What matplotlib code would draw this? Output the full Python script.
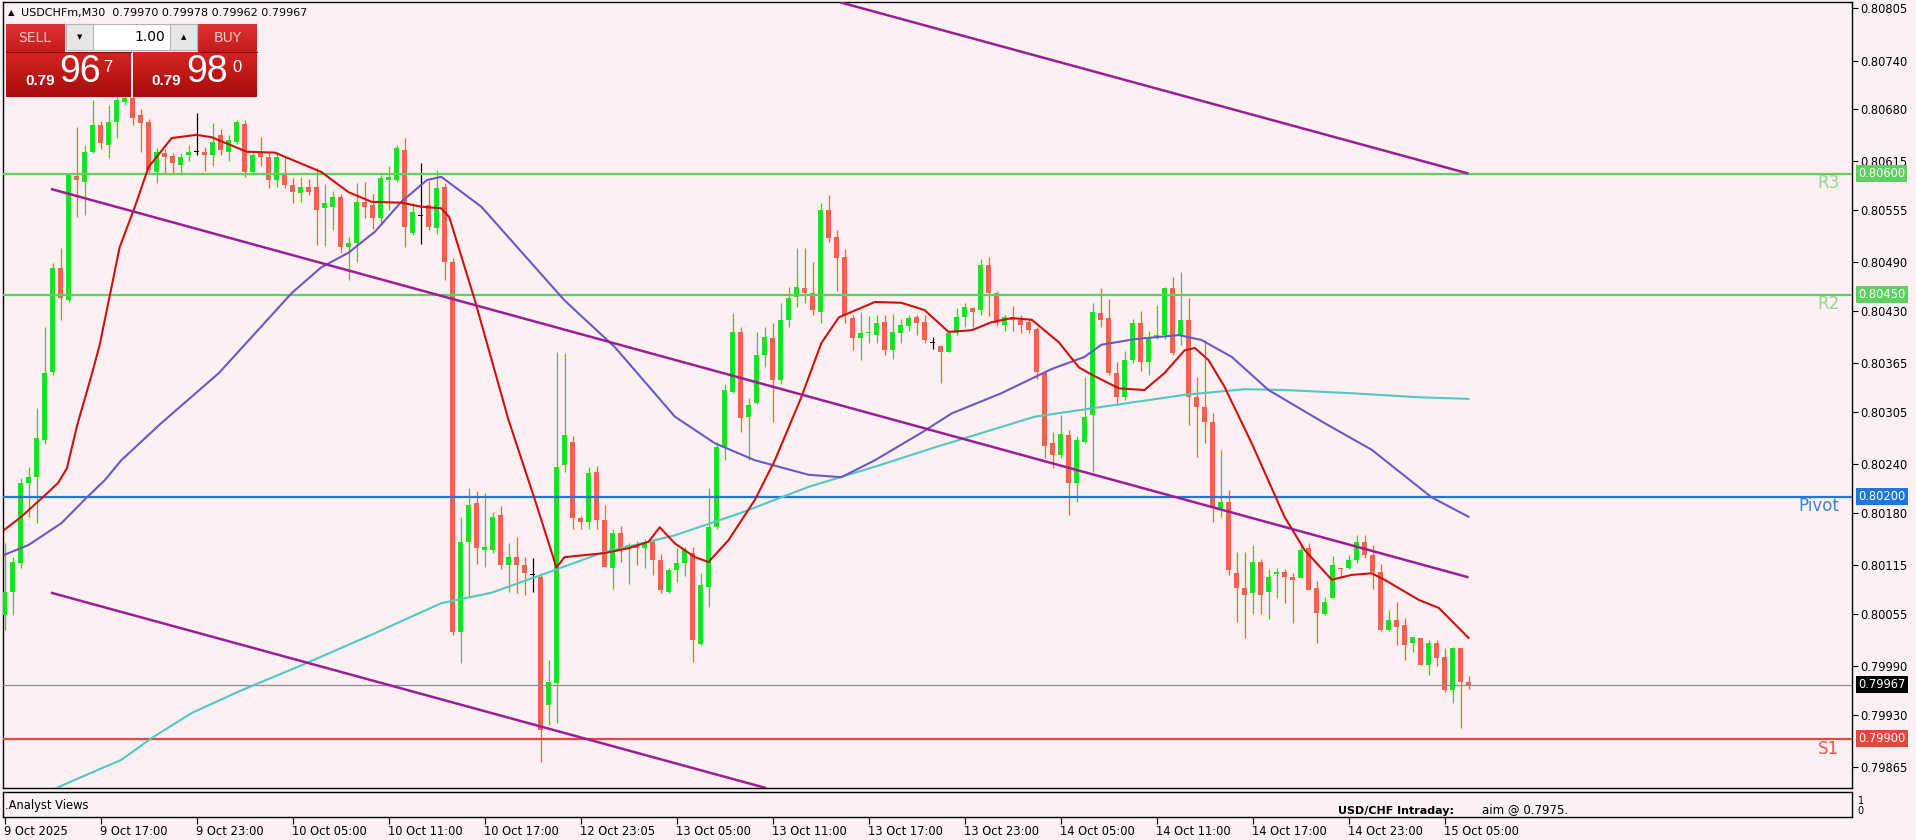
import numpy as np
import matplotlib
matplotlib.use("Agg")
import matplotlib.pyplot as plt
from matplotlib.patches import Rectangle
from matplotlib.colors import to_rgb
from matplotlib.transforms import blended_transform_factory

plt.rcParams['font.family'] = ['DejaVu Sans']

# ---- data (prices in points, 1e-5) ----
symbol = "USDCHFm,M30"

opens = [80053, 80082, 80118, 80217, 80224, 80270, 80354, 80483, 80443, 80597,
         80590, 80627, 80660, 80635, 80664, 80689, 80694, 80673, 80664, 80602,
         80626, 80622, 80611, 80623, 80627, 80627, 80623, 80648, 80627, 80639,
         80662, 80602, 80625, 80621, 80592, 80601, 80586, 80576, 80583, 80583,
         80557, 80559, 80571, 80509, 80514, 80565, 80561, 80545, 80592, 80592,
         80629, 80526, 80548, 80561, 80533, 80583, 80491, 80032, 80144, 80192,
         80134, 80134, 80177, 80115, 80125, 80115, 80103, 80100, 79942, 79969,
         80239, 80268, 80173, 80168, 80230, 80171, 80112, 80155, 80136, 80140,
         80136, 80146, 80121, 80082, 80109, 80118, 80130, 80018, 80088, 80162,
         80261, 80330, 80404, 80299, 80316, 80375, 80396, 80344, 80419, 80447,
         80458, 80452, 80429, 80555, 80521, 80497, 80421, 80396, 80402, 80400,
         80416, 80381, 80403, 80411, 80422, 80416, 80390, 80387, 80379, 80403,
         80422, 80434, 80431, 80487, 80452, 80413, 80422, 80419, 80416, 80408,
         80353, 80266, 80251, 80276, 80217, 80268, 80301, 80427, 80421, 80353,
         80323, 80369, 80415, 80367, 80396, 80400, 80458, 80400, 80419, 80323,
         80311, 80292, 80186, 80193, 80105, 80087, 80080, 80119, 80082, 80104,
         80106, 80100, 80099, 80136, 80087, 80055, 80074, 80112, 80112, 80121,
         80144, 80128, 80107, 80035, 80047, 80041, 80019, 80025, 79992, 80019,
         80001, 79960, 80012, 79970]
highs = [80142, 80125, 80223, 80237, 80310, 80410, 80489, 80508, 80600, 80658,
         80635, 80691, 80665, 80685, 80700, 80700, 80700, 80680, 80668, 80632,
         80630, 80626, 80625, 80635, 80675, 80633, 80663, 80655, 80648, 80666,
         80666, 80626, 80645, 80627, 80625, 80620, 80595, 80596, 80593, 80607,
         80587, 80578, 80575, 80521, 80588, 80590, 80575, 80598, 80610, 80635,
         80644, 80563, 80613, 80591, 80604, 80588, 80495, 80175, 80211, 80207,
         80204, 80181, 80188, 80142, 80150, 80125, 80124, 80105, 79997, 80379,
         80378, 80275, 80176, 80237, 80238, 80189, 80160, 80163, 80143, 80145,
         80148, 80148, 80129, 80112, 80136, 80138, 80138, 80105, 80211, 80268,
         80340, 80427, 80410, 80322, 80404, 80410, 80415, 80440, 80460, 80508,
         80508, 80491, 80564, 80573, 80530, 80507, 80425, 80429, 80424, 80425,
         80425, 80426, 80420, 80425, 80425, 80425, 80398, 80388, 80405, 80434,
         80440, 80435, 80494, 80497, 80455, 80425, 80436, 80425, 80420, 80410,
         80355, 80280, 80301, 80282, 80275, 80348, 80440, 80458, 80445, 80367,
         80380, 80420, 80430, 80405, 80437, 80460, 80472, 80478, 80446, 80348,
         80394, 80303, 80258, 80208, 80131, 80131, 80140, 80123, 80110, 80111,
         80110, 80105, 80142, 80142, 80095, 80076, 80127, 80112, 80128, 80152,
         80152, 80140, 80117, 80060, 80070, 80050, 80026, 80025, 80023, 80023,
         80013, 80014, 80013, 79978]
lows = [80035, 80053, 80111, 80175, 80167, 80265, 80350, 80419, 80441, 80546,
        80549, 80626, 80630, 80619, 80644, 80685, 80660, 80627, 80600, 80588,
        80600, 80600, 80598, 80615, 80623, 80603, 80610, 80623, 80616, 80637,
        80596, 80600, 80610, 80582, 80584, 80582, 80563, 80565, 80573, 80512,
        80510, 80530, 80502, 80468, 80490, 80545, 80531, 80540, 80555, 80590,
        80509, 80524, 80513, 80530, 80525, 80468, 80028, 79994, 80076, 80117,
        80113, 80130, 80110, 80082, 80080, 80078, 80082, 79871, 79917, 79920,
        80230, 80160, 80160, 80160, 80160, 80113, 80085, 80119, 80092, 80115,
        80111, 80103, 80080, 80080, 80094, 80102, 79995, 80016, 80063, 80160,
        80245, 80328, 80280, 80245, 80315, 80360, 80292, 80340, 80410, 80435,
        80440, 80425, 80415, 80515, 80455, 80415, 80381, 80369, 80390, 80390,
        80375, 80370, 80390, 80405, 80400, 80390, 80383, 80341, 80379, 80400,
        80410, 80410, 80425, 80424, 80411, 80405, 80405, 80402, 80403, 80346,
        80248, 80235, 80248, 80177, 80193, 80266, 80230, 80410, 80350, 80313,
        80320, 80365, 80355, 80350, 80395, 80395, 80375, 80388, 80289, 80249,
        80266, 80169, 80175, 80103, 80045, 80025, 80055, 80055, 80048, 80075,
        80068, 80044, 80099, 80084, 80019, 80053, 80074, 80100, 80110, 80118,
        80124, 80085, 80033, 80033, 80016, 79998, 80007, 79992, 79979, 79990,
        79958, 79944, 79913, 79962]
closes = [80082, 80119, 80217, 80224, 80273, 80353, 80483, 80446, 80598, 80592,
          80627, 80660, 80638, 80664, 80691, 80694, 80669, 80663, 80604, 80627,
          80621, 80613, 80621, 80627, 80627, 80623, 80639, 80629, 80642, 80664,
          80602, 80623, 80620, 80592, 80621, 80586, 80577, 80583, 80577, 80555,
          80563, 80571, 80509, 80514, 80565, 80559, 80545, 80595, 80596, 80632,
          80534, 80552, 80548, 80534, 80582, 80491, 80032, 80144, 80190, 80136,
          80137, 80175, 80115, 80125, 80115, 80105, 80103, 79911, 79970, 80237,
          80276, 80173, 80168, 80229, 80171, 80113, 80155, 80136, 80140, 80136,
          80144, 80121, 80084, 80109, 80118, 80134, 80022, 80090, 80162, 80261,
          80332, 80404, 80297, 80313, 80375, 80398, 80344, 80419, 80446, 80460,
          80452, 80431, 80555, 80520, 80495, 80425, 80396, 80402, 80403, 80415,
          80381, 80404, 80412, 80421, 80415, 80394, 80390, 80379, 80402, 80422,
          80435, 80429, 80487, 80452, 80415, 80422, 80419, 80413, 80406, 80354,
          80263, 80251, 80278, 80217, 80270, 80299, 80429, 80419, 80353, 80323,
          80369, 80415, 80367, 80396, 80400, 80458, 80378, 80419, 80323, 80311,
          80292, 80186, 80193, 80109, 80087, 80078, 80119, 80078, 80100, 80106,
          80100, 80097, 80134, 80084, 80056, 80069, 80115, 80110, 80122, 80144,
          80128, 80107, 80035, 80047, 80039, 80016, 80026, 79992, 80019, 80000,
          79960, 80012, 79970, 79967]

# moving averages (bar index, price in points)
ma_fast_bars = [0, 2.1, 5.1, 6.7, 7.8, 9.1, 10.9, 11.9, 14.4, 16.3, 18, 20.9, 24, 25.9,
                30.3, 33.8, 39.6, 43, 45.9, 49.6, 52.1, 54.6, 55.6, 58.8, 63, 66.3, 69,
                70, 73, 75, 78, 80.5, 81.9, 83.8, 86.3, 88, 90.5, 93.8, 96.3, 99.6,
                102.1, 104.3, 108.8, 112.1, 115, 118, 120.9, 123.4, 125.9, 128.4,
                131.8, 134.3, 135.9, 139.3, 142.5, 145, 147.5, 148.8, 150.5, 152.5,
                155.9, 160, 162.5, 165.9, 168.4, 170.9, 172.5, 176.8, 179.3, 183]
ma_fast_vals = [80159, 80175, 80202, 80217, 80235, 80289, 80351, 80388, 80509, 80559,
                80608, 80644, 80648, 80645, 80627, 80626, 80602, 80577, 80565, 80564,
                80559, 80557, 80546, 80443, 80295, 80196, 80112, 80125, 80128, 80130,
                80136, 80144, 80162, 80142, 80125, 80119, 80146, 80196, 80245, 80323,
                80390, 80422, 80441, 80440, 80431, 80404, 80406, 80416, 80421, 80419,
                80391, 80360, 80351, 80334, 80332, 80353, 80381, 80384, 80369, 80336,
                80266, 80175, 80134, 80097, 80103, 80105, 80097, 80072, 80062, 80025]
ma_mid_bars = [0, 3, 7.1, 10.3, 12.5, 14.6, 19.6, 26.8, 35.9, 39.6, 43, 46.3, 49.6,
               52.8, 54.6, 59.6, 70, 76.3, 83.8, 88.8, 93.8, 100.5, 104.6, 108.8,
               114.6, 118.4, 124.6, 130.9, 135, 137.1, 141.3, 146.8, 149.6, 153.4,
               158, 165, 170.9, 178.4, 183]
ma_mid_vals = [80128, 80140, 80167, 80199, 80220, 80245, 80291, 80353, 80452, 80484,
               80502, 80528, 80565, 80592, 80596, 80559, 80443, 80385, 80299, 80266,
               80245, 80227, 80224, 80245, 80279, 80303, 80328, 80358, 80373, 80388,
               80395, 80400, 80394, 80373, 80332, 80291, 80258, 80199, 80175]
ma_slow_bars = [6, 8.75, 14.6, 18.4, 23.4, 29.6, 37.1, 45.9, 54.6, 60.9, 67.1, 74.6,
                83.8, 92.1, 100.5, 108.8, 116.3, 128.8, 137.1, 147.5, 155, 160, 168.4,
                176.8, 183]
ma_slow_vals = [79837, 79849, 79874, 79901, 79932, 79960, 79991, 80029, 80068, 80081,
                80103, 80130, 80152, 80180, 80212, 80237, 80261, 80299, 80311, 80326,
                80333, 80332, 80328, 80323, 80321]

# channel trend lines
tl_upper_bars, tl_upper_vals = [104.5, 183], [80812, 80600]
tl_mid_bars, tl_mid_vals = [5.8, 183], [80581, 80100]
tl_low_bars, tl_low_vals = [5.8, 95.2], [80081, 79839]

# pivot levels
levels = {"R3": 0.80600, "R2": 0.80450, "Pivot": 0.80200, "S1": 0.79900}
level_colors = {"R3": "#5fcf5f", "R2": "#5fcf5f", "Pivot": "#1f78d8", "S1": "#e5483c"}
label_colors = {"R3": "#8fd88f", "R2": "#8fd88f", "Pivot": "#3b84d6", "S1": "#e2574c"}

price_ticks = [0.80805, 0.80740, 0.80680, 0.80615, 0.80555, 0.80490, 0.80430, 0.80365,
               0.80305, 0.80240, 0.80180, 0.80115, 0.80055, 0.79990, 0.79930, 0.79865]
time_bars = [0, 12, 24, 36, 48, 60, 72, 84, 96, 108, 120, 132, 144, 156, 168, 180]
time_labels = ["9 Oct 2025", "9 Oct 17:00", "9 Oct 23:00", "10 Oct 05:00", "10 Oct 11:00",
               "10 Oct 17:00", "12 Oct 23:05", "13 Oct 05:00", "13 Oct 11:00",
               "13 Oct 17:00", "13 Oct 23:00", "14 Oct 05:00", "14 Oct 11:00",
               "14 Oct 17:00", "14 Oct 23:00", "15 Oct 05:00"]
sell_price, buy_price = "0.79967", "0.79980"

# ---- layout ----
W, H = 1916, 840
BG = "#fdf0f3"
GREEN = "#1ee01e"
RED = "#f0654a"


def px_rect(x0, y0, x1, y1):
    return [x0 / W, 1 - y1 / H, (x1 - x0) / W, (y1 - y0) / H]


fig = plt.figure(figsize=(W / 100, H / 100), dpi=100, facecolor=BG)
ax = fig.add_axes(px_rect(2.5, 2, 1852, 788))
axp = fig.add_axes(px_rect(2.5, 792, 1852, 817))
ui = fig.add_axes([0, 0, 1, 1], zorder=20)

x_lo = -0.25
x_hi = x_lo + (1852 - 2.5) / 8.0
for a in (ax, axp):
    a.set_facecolor(BG)
    a.set_xlim(x_lo, x_hi)
    for s in a.spines.values():
        s.set_color("black")
        s.set_linewidth(1.0)

ax.set_ylim(0.798391, 0.808125)

# candles
o = np.array(opens) / 1e5
h = np.array(highs) / 1e5
l = np.array(lows) / 1e5
c = np.array(closes) / 1e5
idx = np.arange(len(o))
cols = np.where(c > o, GREEN, np.where(c < o, RED, "black"))
ax.vlines(idx, l, h, colors=cols, lw=0.9, zorder=3)
body = np.maximum(np.abs(c - o), 0.000013)
ax.bar(idx, body, bottom=np.minimum(o, c), width=0.62, color=cols, lw=0, zorder=4)

# levels
tr = blended_transform_factory(ax.transAxes, ax.transData)
for name, val in levels.items():
    ax.axhline(val, color=level_colors[name], lw=1.6, zorder=5)
    ax.annotate(name, xy=(0.9932, val), xycoords=tr, xytext=(0, -0.5),
                textcoords="offset points", ha="right", va="top",
                fontsize=12, color=label_colors[name], zorder=6)
    ax.annotate(f"{val:.5f}", xy=(1.0, val), xycoords=tr, xytext=(4.5, 0),
                textcoords="offset points", ha="left", va="center", fontsize=8.3,
                color="white", annotation_clip=False,
                bbox=dict(boxstyle="square,pad=0.18", fc=level_colors[name], ec="none"))
last = c[-1]
ax.axhline(last, color="#8c8c8c", lw=0.9, zorder=5)
ax.annotate(f"{last:.5f}", xy=(1.0, last), xycoords=tr, xytext=(4.5, 0),
            textcoords="offset points", ha="left", va="center", fontsize=8.3,
            color="white", annotation_clip=False,
            bbox=dict(boxstyle="square,pad=0.18", fc="black", ec="none"))

# moving averages
ax.plot(ma_slow_bars, np.array(ma_slow_vals) / 1e5, color="#52c8c2", lw=1.5, zorder=6)
ax.plot(ma_mid_bars, np.array(ma_mid_vals) / 1e5, color="#6a58c8", lw=1.5, zorder=6)
ax.plot(ma_fast_bars, np.array(ma_fast_vals) / 1e5, color="#d01010", lw=1.5, zorder=6)

# trend lines
for bx, by in ((tl_upper_bars, tl_upper_vals), (tl_mid_bars, tl_mid_vals),
               (tl_low_bars, tl_low_vals)):
    ax.plot(bx, np.array(by) / 1e5, color="#9c1e96", lw=1.8, zorder=7,
            solid_capstyle="butt")

ax.set_xticks([])
ax.yaxis.tick_right()
ax.set_yticks(price_ticks)
ax.set_yticklabels([f"{p:.5f}" for p in price_ticks])
ax.tick_params(axis="y", length=4, width=0.8, pad=2, labelsize=8.3, direction="out")

# indicator sub-window
axp.set_ylim(-0.7, 1.8)
axp.yaxis.tick_right()
axp.set_yticks([1, 0])
axp.set_yticklabels(["1", "0"])
axp.tick_params(axis="y", length=0, pad=4, labelsize=7)
axp.set_xticks(time_bars)
axp.set_xticklabels(time_labels, ha="left", fontsize=8.3)
axp.tick_params(axis="x", length=5, width=0.8, pad=1, direction="out")

# ---- UI overlay (pixel coords) ----
ui.set_xlim(0, W)
ui.set_ylim(H, 0)
ui.axis("off")

ui.text(5, 806, ".Analyst Views", fontsize=8.3, va="center", ha="left")
ui.text(1338, 816, "USD/CHF Intraday:", fontsize=8, fontweight="bold", va="bottom", ha="left")
ui.text(1482, 816, "aim @ 0.7975.", fontsize=8.5, va="bottom", ha="left")

ui.text(8, 13, "\u25b2", fontsize=6, va="center", ha="left")
ui.text(21, 13, f"{symbol}  {o[-1]:.5f} {h[-1]:.5f} {l[-1]:.5f} {c[-1]:.5f}",
        fontsize=8, va="center", ha="left")


def grad(x0, y0, x1, y1, top, bot):
    t = np.linspace(0, 1, 40)[:, None]
    img = (np.array(to_rgb(top)) * (1 - t) + np.array(to_rgb(bot)) * t)[:, None, :]
    ui.imshow(img, extent=(x0, x1, y1, y0), aspect="auto", zorder=21,
              interpolation="bilinear")


grad(6, 24, 65, 52, "#dc3434", "#c41c1c")
grad(198, 24, 257, 52, "#dc3434", "#c41c1c")
grad(6, 52, 131, 97, "#d42424", "#a80c0c")
grad(133, 52, 257, 97, "#d42424", "#a80c0c")
ui.add_patch(Rectangle((66, 24), 131, 26, fc="white", ec="#b4b4b4", lw=0.8, zorder=21))
ui.add_patch(Rectangle((66, 24), 27, 26, fc="#e6e6e6", ec="#b4b4b4", lw=0.8, zorder=22))
ui.add_patch(Rectangle((170, 24), 27, 26, fc="#e6e6e6", ec="#b4b4b4", lw=0.8, zorder=22))
ui.plot([6, 131], [52, 52], color="#8a0808", lw=0.8, zorder=23)
ui.plot([198, 257], [52, 52], color="#8a0808", lw=0.8, zorder=23)
ui.set_xlim(0, W)
ui.set_ylim(H, 0)

ui.text(35, 38, "SELL", fontsize=10, color="#ffc4c4", ha="center", va="center", zorder=24)
ui.text(228, 38, "BUY", fontsize=10, color="#ffc4c4", ha="center", va="center", zorder=24)
ui.text(80, 37, "\u25bc", fontsize=5, ha="center", va="center", zorder=24)
ui.text(184, 37, "\u25b2", fontsize=5, ha="center", va="center", zorder=24)
ui.text(165, 37, "1.00", fontsize=10, ha="right", va="center", zorder=24)

for x_small, x_big, x_sup, price in ((25, 59, 103, sell_price), (151, 186, 232, buy_price)):
    ui.text(x_small, 88, price[:4], fontsize=11, fontweight="bold", color="white",
            family="Liberation Sans", ha="left", va="bottom", zorder=24)
    ui.text(x_big, 90, price[4:6], fontsize=27, color="white", family="Liberation Sans",
            ha="left", va="bottom", zorder=24)
    ui.text(x_sup, 60, price[6], fontsize=12, color="white", family="Liberation Sans",
            ha="left", va="top", zorder=24)

fig.savefig("out.png", dpi=100, facecolor=BG)
